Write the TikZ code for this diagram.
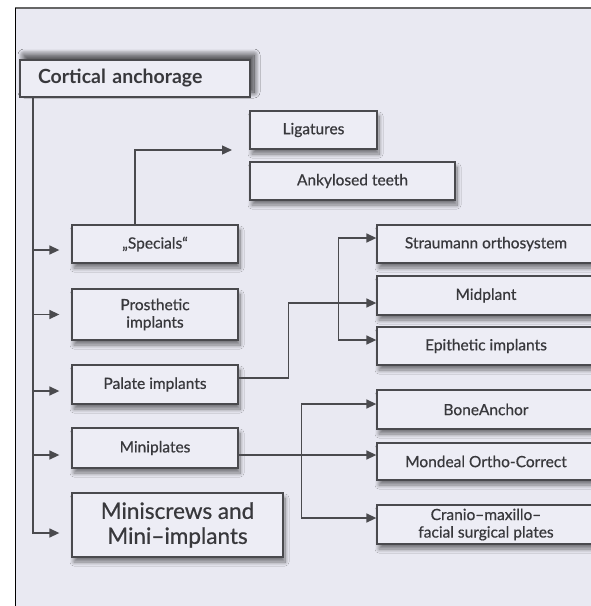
\documentclass[tikz,border=0pt]{standalone}
\usepackage{fontspec}
\setmainfont{Lato}
\newfontfamily\medfont{Lato}[FakeBold=0.6]
\usetikzlibrary{arrows.meta,shadows,shadows.blur}
\definecolor{bgc}{HTML}{E9E9F2}
\definecolor{boxc}{HTML}{EDEDF5}
\definecolor{linec}{HTML}{4A4A4E}
\definecolor{txtc}{HTML}{38383C}
\tikzset{
  box/.style={draw=linec, line width=1.3pt, fill=boxc, rectangle, text=txtc,
    align=center, inner sep=2pt,
    blur shadow={shadow xshift=2pt, shadow yshift=-5pt, shadow blur radius=4pt, shadow blur steps=12, shadow opacity=50}},
  lab/.style={font=\medfont\fontsize{15.5}{17.5}\selectfont},
  conn/.style={draw=linec, line width=1.4pt},
  arr/.style={conn, -{Triangle[length=10pt,width=9pt]}},
  arrb/.style={conn, {Triangle[length=10pt,width=9pt]}-{Triangle[length=10pt,width=9pt]}},
}
\begin{document}
\begin{tikzpicture}[x=1pt,y=-1pt]
\useasboundingbox (0,0) rectangle (591,606);
\fill[white] (0,0) rectangle (591,606);
\fill[bgc] (15,8) rectangle (591,606);
\draw[color=black!60, line width=2pt] (15,8) -- (591,8);
\draw[black, line width=1pt] (15,8) -- (15,606);

% main box
\node[box, minimum width=230pt, minimum height=37pt, text width=194pt, inner xsep=18pt, align=left,
  font=\bfseries\fontsize{19.5}{21}\selectfont,
  blur shadow={shadow xshift=4pt, shadow yshift=5pt, shadow blur radius=6pt, shadow blur steps=14, shadow opacity=45}]
  (cortical) at (135,78.5) {Cortical anchorage};

% left column
\node[box, lab, minimum width=166pt, minimum height=38pt] (specials) at (155,244) {„Specials“};
\node[box, lab, minimum width=166pt, minimum height=51pt] (prosthetic) at (155,314.5) {Prosthetic\\implants};
\node[box, lab, minimum width=166pt, minimum height=39pt] (palate) at (155,384.5) {Palate implants};
\node[box, lab, minimum width=166pt, minimum height=40pt] (miniplates) at (155,448) {Miniplates};
\node[box, minimum width=211pt, minimum height=64pt, font=\medfont\fontsize{22.5}{25}\selectfont] (miniscrews) at (177.5,525) {Miniscrews and\\Mini–implants};

% specials targets
\node[box, lab, minimum width=127pt, minimum height=38pt] (ligatures) at (313.5,130) {Ligatures};
\node[box, lab, minimum width=205pt, minimum height=38pt] (ankylosed) at (352.5,181) {Ankylosed teeth};

% right column
\node[box, lab, minimum width=218pt, minimum height=38pt] (straumann) at (486,244) {Straumann orthosystem};
\node[box, lab, minimum width=218pt, minimum height=39pt] (midplant) at (486,295.5) {Midplant};
\node[box, lab, minimum width=218pt, minimum height=38pt] (epithetic) at (486,346) {Epithetic implants};
\node[box, lab, minimum width=218pt, minimum height=39pt] (boneanchor) at (486,409.5) {BoneAnchor};
\node[box, lab, minimum width=218pt, minimum height=37pt] (mondeal) at (486,461.5) {Mondeal Ortho-Correct};
\node[box, lab, minimum width=218pt, minimum height=39pt] (cranio) at (486,524.5) {Cranio–maxillo–\\facial surgical plates};

% trunk
\coordinate (trunk) at (33,97);
\draw[arr, shorten >=12pt] (trunk) |- ([yshift=-8pt]miniscrews.west);
\draw[arr, shorten >=12pt] ([yshift=-6pt]specials.west -| trunk) -- ([yshift=-6pt]specials.west);
\draw[arr, shorten >=12pt] (prosthetic.west -| trunk) -- (prosthetic.west);
\draw[arr, shorten >=12pt] ([yshift=-6.5pt]palate.west -| trunk) -- ([yshift=-6.5pt]palate.west);
\draw[arr, shorten >=12pt] ([yshift=-7pt]miniplates.west -| trunk) -- ([yshift=-7pt]miniplates.west);

% specials up
\coordinate (spe) at (232,150);
\draw[arr] ([xshift=-20pt]specials.north) |- (spe);

% palate
\draw[arr] ([yshift=6.5pt]palate.east) -- ++(50,0) |- ([yshift=-7.5pt]midplant.west);
\draw[arrb] ([yshift=6pt]straumann.west) -- ++(-38,0) |- ([yshift=6pt]epithetic.west);

% miniplates
\draw[arr] ([yshift=-7pt]miniplates.east) -- ([yshift=-7pt]miniplates.east -| mondeal.west);
\draw[arrb] ([yshift=5.5pt]boneanchor.west) -- ++(-75,0) |- ([yshift=6.5pt]cranio.west);
\end{tikzpicture}
\end{document}
